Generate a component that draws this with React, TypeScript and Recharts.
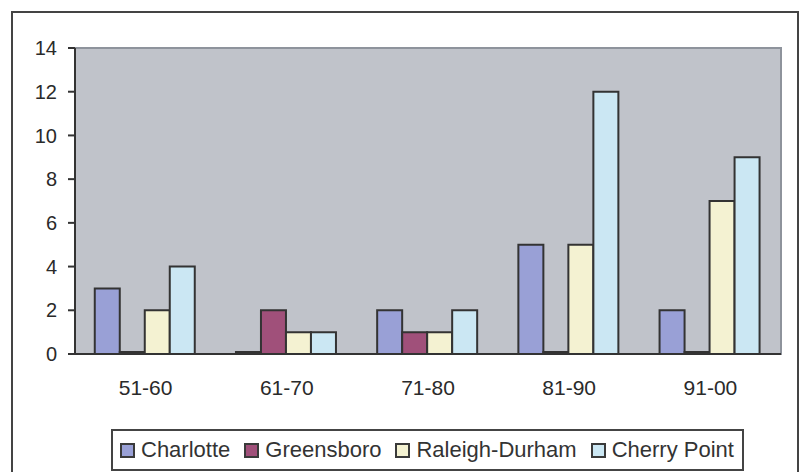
import React from 'react';
import { BarChart, Bar, XAxis, YAxis, CartesianGrid, ReferenceArea, Legend } from 'recharts';

const periods = ['51-60', '61-70', '71-80', '81-90', '91-00'];
const charlotte = [3, 0, 2, 5, 2];
const greensboro = [0, 2, 1, 0, 0];
const raleighDurham = [2, 1, 1, 5, 7];
const cherryPoint = [4, 1, 2, 12, 9];
const yTicks = [0, 2, 4, 6, 8, 10, 12, 14];
const edgeTicks = [0, 1, 2, 3, 4, 5];

const series = [
    { key: 'charlotte', name: 'Charlotte', color: '#99A0D6' },
    { key: 'greensboro', name: 'Greensboro', color: '#A0507A' },
    { key: 'raleighDurham', name: 'Raleigh-Durham', color: '#F4F2D2' },
    { key: 'cherryPoint', name: 'Cherry Point', color: '#CBE7F3' },
];

const data = periods.map((period, i) => ({
    period,
    charlotte: charlotte[i],
    greensboro: greensboro[i],
    raleighDurham: raleighDurham[i],
    cherryPoint: cherryPoint[i],
}));

const FONT = '"Liberation Sans", Arial, sans-serif';

// boxed legend like the old Excel chart
const renderLegend = () => (
    <div
        style={{
            boxSizing: 'border-box',
            width: 633,
            height: 42,
            border: '2px solid #444',
            background: '#fff',
            display: 'flex',
            alignItems: 'center',
            paddingLeft: 7,
            fontFamily: FONT,
            fontSize: 22,
            color: '#333',
            whiteSpace: 'nowrap',
        }}
    >
        {series.map((s) => (
            <div key={s.key} style={{ display: 'flex', alignItems: 'center', marginRight: 14, flexShrink: 0 }}>
                <span
                    style={{
                        boxSizing: 'border-box',
                        display: 'inline-block',
                        width: 15,
                        height: 15,
                        border: '2px solid #3a3a3a',
                        background: s.color,
                        marginRight: 6,
                    }}
                />
                <span>{s.name}</span>
            </div>
        ))}
    </div>
);

const App: React.FC = () => {
    return (
        <div style={{ position: 'absolute', left: 0, top: 0, width: 803, height: 472, overflow: 'hidden', background: '#fff' }}>
            {/* outer chart border */}
            <div
                style={{
                    position: 'absolute',
                    left: 11,
                    top: 11,
                    width: 788,
                    height: 472,
                    boxSizing: 'border-box',
                    border: '2px solid #444',
                }}
            />
            <BarChart
                width={803}
                height={472}
                data={data}
                margin={{ top: 48, right: 22, bottom: 46, left: 0 }}
                barCategoryGap="14%"
                barGap={0}
            >
                <ReferenceArea xAxisId="cat" y1={0} y2={14} fill="#C0C3CA" fillOpacity={1} stroke="#8E939C" strokeWidth={2} />
                <CartesianGrid
                    xAxisId="cat"
                    vertical={false}
                    horizontalValues={[2, 4, 6, 8, 10, 12]}
                    stroke="#3c3c3c"
                    strokeWidth={2}
                />
                {/* tick marks between the categories */}
                <XAxis
                    xAxisId="edge"
                    type="number"
                    domain={[0, 5]}
                    ticks={edgeTicks}
                    tick={false}
                    axisLine={false}
                    tickSize={7}
                    tickLine={{ stroke: '#333', strokeWidth: 2 }}
                    height={0}
                />
                <XAxis
                    xAxisId="cat"
                    dataKey="period"
                    tickLine={false}
                    tickSize={7}
                    tickMargin={19}
                    axisLine={{ stroke: '#333', strokeWidth: 2 }}
                    tick={{ fontSize: 21, fill: '#2a2a2a', fontFamily: FONT }}
                    interval={0}
                    height={30}
                />
                <YAxis
                    domain={[0, 14]}
                    ticks={yTicks}
                    width={75}
                    tickSize={7}
                    tickMargin={11}
                    axisLine={{ stroke: '#333', strokeWidth: 2 }}
                    tickLine={{ stroke: '#333', strokeWidth: 2 }}
                    tick={{ fontSize: 20, fill: '#2a2a2a', fontFamily: FONT }}
                />
                <Legend
                    content={renderLegend}
                    wrapperStyle={{ position: 'absolute', left: 111, top: 429, width: 633, height: 42 }}
                />
                {series.map((s) => (
                    <Bar
                        key={s.key}
                        xAxisId="cat"
                        dataKey={s.key}
                        name={s.name}
                        fill={s.color}
                        stroke="#333"
                        strokeWidth={2}
                        minPointSize={2}
                        isAnimationActive={false}
                    />
                ))}
            </BarChart>
        </div>
    );
};

export default App;
